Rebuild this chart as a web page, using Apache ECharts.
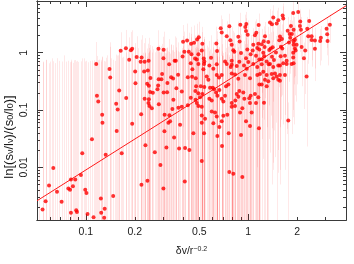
<!DOCTYPE html>
<html><head><meta charset="utf-8">
<script src="https://cdn.jsdelivr.net/npm/echarts@6/dist/echarts.min.js"></script>
<style>html,body{margin:0;padding:0;background:#fff}#c{width:354px;height:264px}</style>
</head><body><div id="c"></div>
<script>
// ---- axis ranges and ticks ----
const xRange = [0.05, 4];
const yRange = [0.0012, 8];
const xTickLabels = [0.1, 0.2, 0.5, 1, 2];
const yTickLabels = [0.01, 0.1, 1];
const xMinorTicks = [0.06,0.07,0.08,0.09,0.2,0.3,0.4,0.5,0.6,0.7,0.8,0.9,2,3];
const xMajorTicks = [0.1, 1];
const yMinorTicks = [0.002,0.003,0.004,0.005,0.006,0.007,0.008,0.009,0.02,0.03,0.04,0.05,0.06,0.07,0.08,0.09,0.2,0.3,0.4,0.5,0.6,0.7,0.8,0.9,2,3,4,5,6,7];
const yMajorTicks = [0.01, 0.1, 1];

// ---- data: x = dv / r^-0.2, y = ln ratio, err = 1-sigma (linear) ----
const dv = [0.0541,0.0565,0.0593,0.0630,0.0664,0.0709,0.0780,0.0799,0.0809,0.0809,0.0832,0.0860,0.0872,0.0881,0.0932,0.0950,0.0991,0.1008,0.1024,0.1090,0.1115,0.1158,0.1170,0.1192,
0.1237,0.1243,0.1260,0.1265,0.1296,0.1306,0.1324,0.1398,0.1412,0.1473,0.1537,0.1548,0.1570,0.1604,0.1639,0.1662,0.1764,0.1771,0.1848,0.1893,0.1928,0.1928,0.2020,0.2012,0.2055,0.2205,0.2174,0.2301,0.2285,0.2408,0.2435,0.2384,0.2442,0.2301,0.2442,0.2428,0.2463,0.2190,0.2199,0.2327,0.2394,
0.2499,0.2488,0.2585,0.2549,0.2659,0.2799,0.3012,0.3003,0.2807,0.2919,0.2948,0.2787,0.2759,0.3012,0.3165,0.2814,0.2878,0.3003,0.3046,0.3134,0.3055,0.3270,0.3224,0.3302,0.3256,0.3520,0.3349,0.3445,0.3178,0.3411,0.3610,0.3698,0.3714,0.3495,0.3751,0.3804,0.3897,0.3897,0.3460,0.3969,0.4201,0.4446,0.4638,0.4840,0.4957,0.4043,0.4302,0.4465,0.3941,0.4705,0.4820,0.3580,0.4930,0.4243,0.4509,0.4752,0.4243,0.4738,0.4725,0.4083,0.4066,0.4340,0.4593,0.4427,0.4528,0.4930,0.4772,0.5101,0.4930,0.4427,0.4820,0.5050,0.4930,0.5173,0.5173,0.5421,0.5173,0.5344,0.5173,
0.5217,0.5173,0.5322,0.5367,0.5901,0.6361,0.6425,0.6770,0.6866,0.7195,0.7371,0.7648,0.7756,0.7911,0.8092,0.8208,0.7911,0.8687,0.8850,0.8936,0.9025,0.8813,0.9592,0.9729,0.9688,0.9924,0.9868,0.9688,1.001,1.035,1.074,1.065,1.121,1.100,1.159,1.153,1.137,1.170,1.116,1.170,
0.5291,0.5344,0.5762,0.6096,0.6398,0.7371,0.7911,0.7800,0.8493,0.9417,0.9785,1.074,1.137,0.5367,0.5217,0.5818,0.6045,0.5553,0.5680,0.6398,0.6609,0.6866,0.6157,0.6638,0.6335,0.7298,0.7540,0.7911,0.8290,0.8687,0.9551,1.025,1.137,1.181,1.170,1.100,1.035,0.8813,0.9323,0.8493,0.8687,0.5762,0.5960,0.6866,0.7911,0.8325,1.025,1.116,1.153,0.5960,0.6245,0.7023,0.7434,0.7911,0.8898,1.050,0.6096,0.6866,0.6638,0.9688,0.6398,0.7023,0.6452,0.7195,0.8290,0.9193,0.9457,1.015,1.250,1.025,1.164,
0.6452,0.6895,0.7581,0.9025,0.7648,0.8092,0.9193,
1.210,1.210,1.2375,1.2445,1.255,1.262,1.268,1.299,1.328,1.336,1.3475,1.361,1.375,1.400,1.400,1.414,1.426,1.440,1.482,1.497,1.531,1.553,1.568,1.568,1.584,1.590,1.613,1.620,1.629,1.643,1.643,1.683,1.724,1.749,1.781,1.800,1.814,1.832,1.858,1.892,1.892,1.892,1.903,1.903,1.903,1.903,1.9385,1.9385,1.958,1.986,2.031,2.081,2.090,2.111,2.132,2.202,2.243,2.308,2.341,2.374,2.456,2.456,2.574,2.574,2.774,2.801,3.037,3.063,3.080,3.183,
1.210,1.361,1.426,1.531,1.724,1.850,1.2375,1.299,1.394,1.461,1.497,1.568,1.683,1.268,1.328,1.210,1.426,1.531,1.299,1.568,2.288,1.764];

const ratio = [0.00183,0.00254,0.00482,0.00974,0.00373,0.00251,0.00425,0.00403,0.00614,0.00160,0.00464,0.00614,0.00178,0.00165,0.00730,0.0176,0.00406,0.00355,0.00153,0.0308,0.00134,0.638,0.178,0.141,
0.00285,0.00160,0.0825,0.0600,0.00131,0.00188,0.0165,0.521,0.369,0.00316,0.129,0.0430,0.102,0.220,1.08,0.0176,1.20,0.162,0.756,1.11,1.17,0.0573,0.293,0.470,0.842,0.825,0.695,0.695,0.470,0.488,0.722,0.287,0.264,0.157,0.154,0.133,0.117,0.0842,0.00495,0.0242,0.00584,
0.362,0.207,0.200,0.107,0.0183,1.17,1.13,0.801,0.345,0.345,0.425,0.268,0.230,0.203,0.205,0.126,0.0109,0.00425,0.0425,0.0221,0.0825,0.0810,0.0600,0.0638,0.631,0.727,0.373,0.355,0.296,0.104,0.239,0.414,0.109,0.0332,0.0213,0.0552,0.114,0.210,0.151,1.55,1.63,1.43,1.49,1.71,1.87,1.04,1.04,0.937,0.858,0.794,0.764,0.727,0.937,0.373,0.379,0.359,0.121,0.151,0.215,0.0218,0.00562,0.0200,0.0394,0.656,0.515,0.638,0.261,0.261,0.197,0.163,0.132,0.167,0.118,0.114,0.0804,0.0700,0.0600,0.0394,0.0129,
1.43,1.09,0.794,0.700,0.816,1.45,1.07,2.68,2.26,0.700,1.94,2.90,1.65,1.38,1.11,1.04,0.727,1.90,1.57,3.08,0.989,0.695,2.82,3.16,2.39,2.07,1.14,0.804,0.689,0.937,1.38,1.09,2.24,2.02,3.04,1.43,1.21,1.14,0.882,0.764,
0.515,0.638,0.600,0.527,0.631,0.638,0.619,0.562,0.584,0.600,0.527,0.638,0.562,0.251,0.190,0.245,0.245,0.383,0.338,0.409,0.369,0.409,0.230,0.224,0.202,0.261,0.279,0.435,0.418,0.351,0.409,0.359,0.409,0.425,0.279,0.190,0.178,0.215,0.202,0.190,0.171,0.157,0.147,0.157,0.132,0.147,0.132,0.132,0.167,0.0937,0.0902,0.0794,0.0825,0.114,0.0902,0.0902,0.0584,0.0638,0.0507,0.0638,0.0773,0.141,0.178,0.178,0.118,0.107,0.157,0.160,0.134,0.0527,0.0482,
0.0351,0.0235,0.0394,0.0365,0.00825,0.00773,0.00674,
1.40,0.773,1.00,1.59,0.868,1.26,1.94,0.700,1.54,0.631,1.12,3.38,1.18,3.13,0.848,1.24,4.14,0.744,1.01,3.25,3.69,1.65,1.92,0.600,0.868,1.27,1.73,1.18,4.47,3.94,0.656,0.882,0.727,2.42,1.51,2.13,1.83,2.93,2.13,4.95,1.00,0.825,2.51,1.57,1.38,0.656,1.69,1.18,1.09,1.38,5.15,2.93,3.51,2.51,1.26,0.804,1.09,2.61,1.94,3.59,1.94,1.67,1.63,1.17,1.60,1.83,2.61,2.10,1.60,3.08,
0.631,0.638,0.562,0.600,0.638,0.638,0.464,0.409,0.425,0.435,0.383,0.409,0.409,0.338,0.316,0.279,0.359,0.338,0.261,0.325,0.383,0.0656];

const err = [0.70,0.75,0.65,0.70,0.80,0.70,0.72,0.68,0.75,0.70,0.66,0.74,0.70,0.72,0.70,0.78,0.70,0.72,0.68,0.70,0.74,0.90,0.70,0.60,
0.75,0.70,0.75,0.80,0.72,0.70,0.80,1.0,0.90,0.75,0.80,0.85,0.80,0.90,1.2,0.80,1.3,0.85,1.1,1.2,1.3,0.90,0.95,1.0,1.1,1.2,1.0,1.1,1.0,0.95,1.1,0.90,0.95,0.85,0.90,0.85,0.90,0.80,0.90,0.95,0.85,
1.0,0.9,0.95,0.9,1.0,1.3,1.2,1.1,1.0,0.95,1.0,0.9,0.95,0.9,1.0,0.9,1.0,0.9,1.0,0.95,0.9,0.95,1.0,0.9,1.1,1.2,1.0,1.0,0.95,1.0,1.0,1.1,0.95,1.0,1.0,1.0,1.0,1.0,0.95,1.5,1.6,1.4,1.5,1.5,1.6,1.3,1.2,1.2,1.1,1.2,1.1,1.1,1.2,1.0,1.1,1.0,1.0,1.0,1.0,1.1,1.0,1.1,1.0,1.2,1.1,1.2,1.0,1.1,1.0,1.0,1.1,1.0,1.0,1.1,1.0,1.1,1.0,1.1,1.0,
1.4,1.2,1.1,1.0,1.2,1.4,1.3,1.8,1.6,1.0,1.6,1.9,1.5,1.4,1.3,1.2,1.0,1.6,1.4,1.9,1.1,1.0,1.8,2.0,1.6,1.6,1.2,1.0,1.0,1.1,1.3,1.2,1.6,1.5,1.8,1.3,1.2,1.2,1.0,1.0,
1.0,1.1,1.0,1.0,1.1,1.0,1.0,0.95,1.0,1.0,0.9,1.0,0.9,0.9,0.95,0.9,1.0,0.95,0.9,1.0,0.9,1.0,0.9,0.95,0.9,0.95,1.0,0.95,1.0,0.9,1.0,0.9,0.95,0.9,0.85,0.8,0.9,0.9,0.85,0.9,0.8,0.9,0.85,0.9,0.85,0.9,0.8,0.75,0.8,0.85,0.9,0.8,0.85,0.8,0.85,0.7,0.8,0.85,0.8,0.75,0.8,0.85,0.9,0.85,0.8,0.85,0.8,0.75,0.7,0.7,0.65,
0.8,0.85,0.8,0.75,0.9,0.85,0.8,
1.2,0.7,0.9,1.3,0.8,1.1,1.5,0.65,1.3,0.6,1.0,2.4,1.1,2.3,0.8,1.1,2.6,0.7,0.95,2.2,2.4,1.4,1.6,0.55,0.8,1.1,1.4,1.0,2.8,2.5,0.6,0.8,0.68,1.8,1.2,1.6,1.4,2.0,1.5,2.8,0.9,0.75,1.7,1.2,1.1,0.6,1.3,1.0,0.95,1.1,2.8,1.9,2.2,1.7,1.0,0.7,0.9,1.6,1.3,2.1,1.2,1.1,1.1,0.85,1.0,1.1,1.4,1.2,1.0,1.6,
0.6,0.62,0.55,0.58,0.6,0.6,0.45,0.45,0.42,0.42,0.4,0.4,0.4,0.35,0.33,0.3,0.35,0.33,0.28,0.32,0.36,0.07];

// error bars whose points fall below the plotted range (x and visible top)
const hiddenX = [0.0517,0.0547,0.0571,0.0600,0.0621,0.0648,0.0681,0.0731,0.0758,0.0842,0.0897,0.0970,0.1056,0.1134,0.1209,0.1353,0.1432,0.1505,0.1604,0.1698,0.1809,0.1983,0.2099,0.2253,0.2559,0.2709,0.2907,0.3120,0.3349,0.3595,0.3969,0.4260,0.4573];
const hiddenTop = [0.72,0.68,0.75,0.70,0.80,0.66,0.72,0.90,0.70,0.74,0.69,0.80,0.72,0.70,0.76,0.90,0.80,0.72,1.0,0.85,1.1,0.90,1.2,1.0,1.3,1.1,1.0,1.2,1.4,1.1,1.3,1.2,1.5];

// fitted power law (end points)
const fitX = [0.05, 4];
const fitY = [0.0026, 6.6];

// ---- build ----
const pts = dv.map((x, i) => [x, ratio[i]]);
const bars = dv.map((x, i) => [x, ratio[i] - err[i], ratio[i] + err[i]])
  .concat(hiddenX.map((x, i) => [x, -1, hiddenTop[i]]));
const fit = fitX.map((x, i) => [x, fitY[i]]);

const AX = '#3a3a3a', TXT = '#1a1a1a', FONT = 'Liberation Sans';
const fmt = v => String(+(+v).toPrecision(6));

function axis(kind, pos, ticks, len, extra) {
  const r = kind === 'x' ? xRange : yRange;
  return Object.assign({
    type: 'log', logBase: 10, min: r[0], max: r[1], position: pos,
    axisLine: { show: true, onZero: false, lineStyle: { color: AX, width: 1 } },
    axisTick: { show: true, inside: true, length: len, customValues: ticks, lineStyle: { color: AX, width: 1 } },
    axisLabel: { show: false },
    splitLine: { show: false }, minorTick: { show: false }, minorSplitLine: { show: false }
  }, extra || {});
}

const chart = echarts.init(document.getElementById('c'), null, { renderer: 'canvas' });
chart.setOption({
  animation: false,
  backgroundColor: '#fff',
  grid: { left: 37, right: 8, top: 1, bottom: 34 },
  xAxis: [
    axis('x', 'bottom', xMinorTicks, 3, {
      name: 'δv/r{sup|−0.2}', nameLocation: 'middle', nameGap: 26,
      nameTextStyle: { color: TXT, fontFamily: FONT, fontSize: 10.5,
        rich: { sup: { fontSize: 7, verticalAlign: 'top', lineHeight: 8, padding: [0,0,6,0], fontFamily: FONT, color: TXT } } },
      axisLabel: { show: true, customValues: xTickLabels, formatter: fmt, color: TXT, fontFamily: FONT, fontSize: 10.5, margin: 7 }
    }),
    axis('x', 'bottom', xMajorTicks, 6),
    axis('x', 'top', xMinorTicks, 3),
    axis('x', 'top', xMajorTicks, 6)
  ],
  yAxis: [
    axis('y', 'left', yMinorTicks, 3, {
      axisLabel: { show: true, customValues: yTickLabels, formatter: fmt, color: TXT, fontFamily: FONT, fontSize: 10.5, rotate: 90, margin: 7 }
    }),
    axis('y', 'left', yMajorTicks, 6),
    axis('y', 'right', yMinorTicks, 3),
    axis('y', 'right', yMajorTicks, 6)
  ],
  graphic: [{
    type: 'text', x: 9, y: 137, rotation: Math.PI / 2, silent: true,
    style: {
      text: 'ln[(s{s|ν}/l{s|ν})/(s{s|0}/l{s|0})]',
      fontFamily: FONT, fontSize: 13, fill: TXT, align: 'center', verticalAlign: 'middle',
      rich: { s: { fontSize: 9, fontFamily: FONT, fill: TXT, padding: [4, 0, 0, 0] } }
    }
  }],
  series: [
    {
      type: 'custom', xAxisIndex: 0, yAxisIndex: 0, clip: true, silent: true,
      encode: { x: 0, y: 2 },
      data: bars,
      renderItem: function (params, api) {
        const cs = params.coordSys;
        const x = api.value(0), lo = api.value(1), hi = api.value(2);
        const top = api.coord([x, hi]);
        const bottomY = lo > 0 ? api.coord([x, lo])[1] : cs.y + cs.height + 2;
        const px = Math.round(top[0]) + 0.5;
        return {
          type: 'line',
          shape: { x1: px, y1: Math.max(top[1], cs.y), x2: px, y2: Math.min(bottomY, cs.y + cs.height) },
          style: { stroke: 'rgba(255,0,0,0.09)', lineWidth: 1 }
        };
      },
      z: 1
    },
    {
      type: 'line', xAxisIndex: 0, yAxisIndex: 0, data: fit, symbol: 'none', clip: true,
      lineStyle: { color: '#ff1a1a', width: 1 }, z: 2, silent: true
    },
    {
      type: 'scatter', xAxisIndex: 0, yAxisIndex: 0, data: pts, symbol: 'circle', symbolSize: 4,
      itemStyle: { color: '#ff0000' }, clip: true, z: 3, silent: true
    }
  ]
});
</script>
</body></html>
